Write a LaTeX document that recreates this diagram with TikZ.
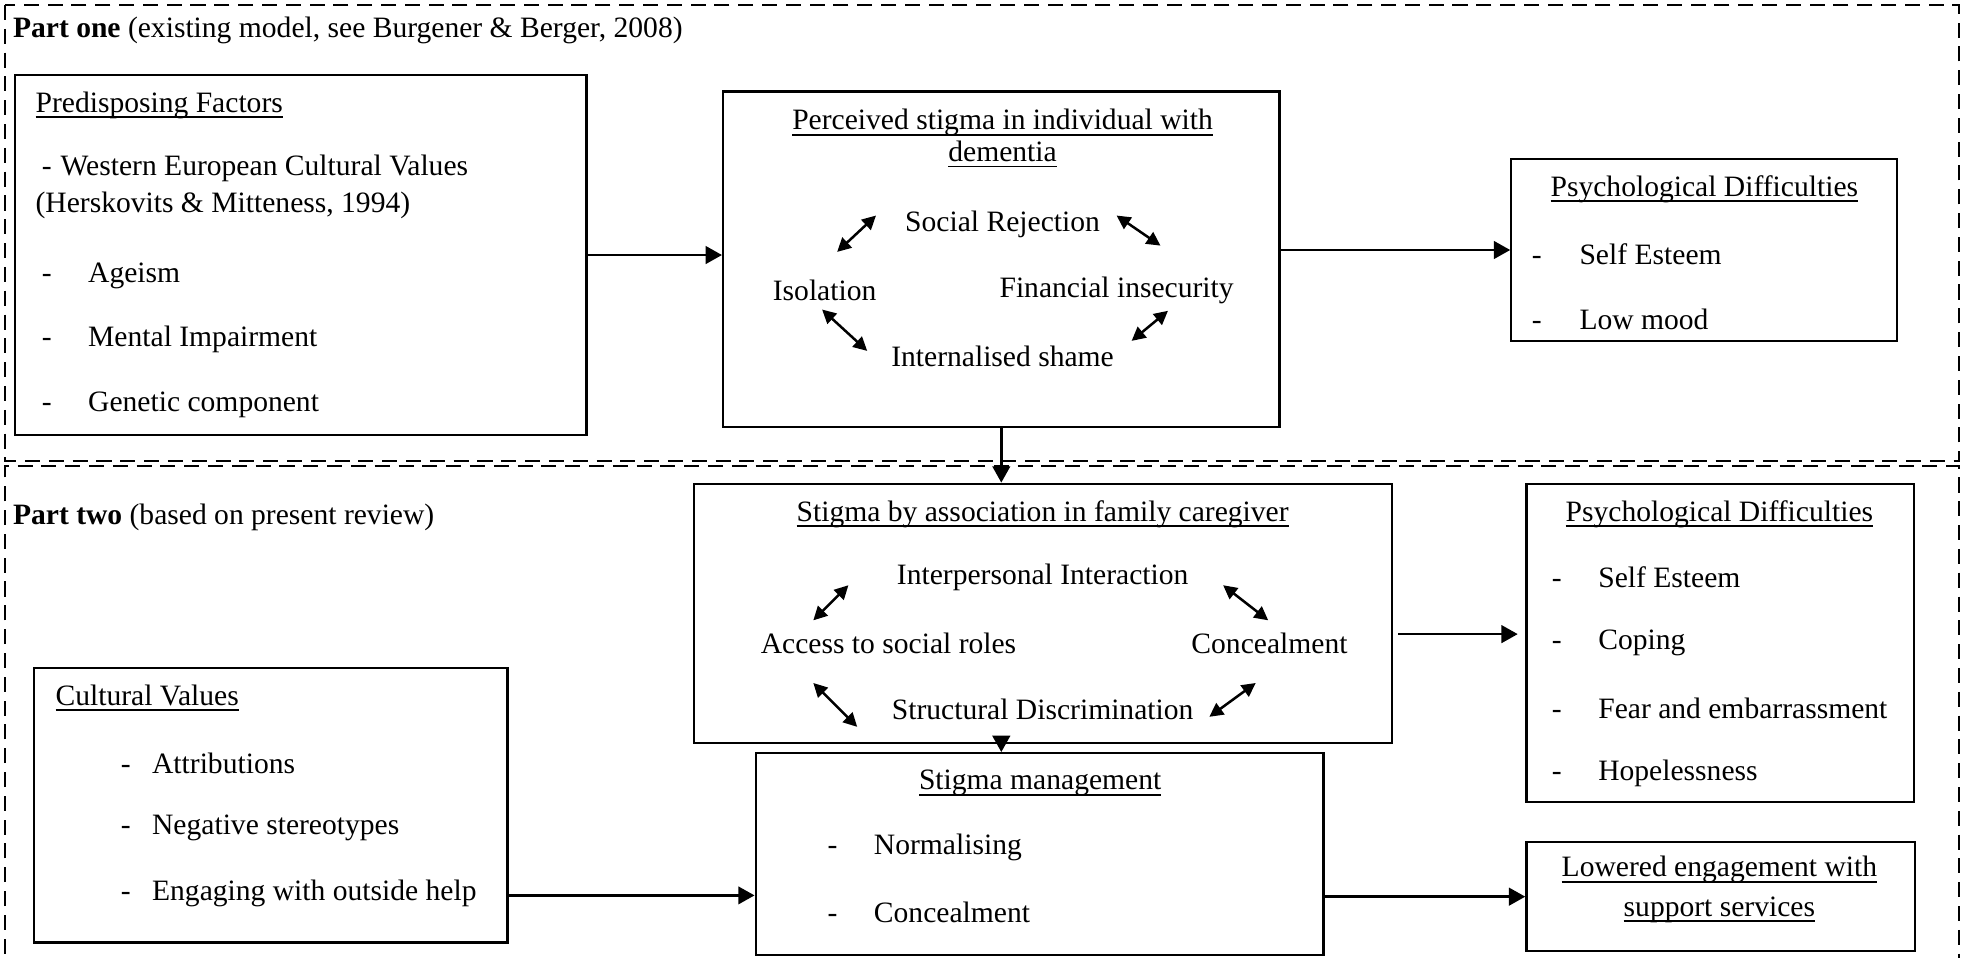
\documentclass[tikz,border=0pt]{standalone}
\usepackage{fontspec}
\setmainfont{Liberation Serif}
\usetikzlibrary{arrows.meta, positioning, calc, fit}

% dash in front of a list entry
\newcommand{\dsh}[1][18.5pt]{\makebox[#1][l]{-}}
% underline at a fixed depth below the baseline
\newcommand{\undl}[1]{\setbox0\hbox{#1}\rlap{\rule[-2.3pt]{\wd0}{0.7pt}}\box0}

\begin{document}
\begin{tikzpicture}[x=0.5pt, y=-0.5pt,
    font=\fontsize{11.8}{14}\selectfont,
    box/.style={draw, line width=0.9pt, inner sep=0pt},
    part/.style={draw, line width=0.6pt, dash pattern=on 6pt off 3.5pt},
    txt/.style={inner sep=0pt},
    itm/.style={inner sep=0pt, anchor=west},
    flow/.style={line width=1pt, -{Triangle[length=6.5pt, width=7pt]}},
    dbl/.style={line width=1pt, {Triangle[length=5.5pt, width=5.5pt]}-{Triangle[length=5.5pt, width=5.5pt]}}]
\useasboundingbox (0,0) rectangle (1568,764);

% part one
\draw[part] (4,4) rectangle (1563,368);
\node[itm] (p1) at (10,24) {\textbf{Part one} (existing model, see Burgener \& Berger, 2008)};

\node[box, fit={(12,60) (468,347)}] (pred) {};
\node[itm] (predT) at (28,84) {\undl{Predisposing Factors}};
\node[itm] (pred1) at (33,134) {\dsh[7.5pt]Western European Cultural Values};
\node[itm] (pred1b) at (28,164) {(Herskovits \& Mitteness, 1994)};
\node[itm] (pred2) at (33,220) {\dsh Ageism};
\node[itm] (pred3) at (33,271) {\dsh Mental Impairment};
\node[itm] (pred4) at (33,323) {\dsh Genetic component};

\node[box, fit={(577,73) (1021,341)}] (perc) {};
\node[txt] (percT1) at (800,98) {\undl{Perceived stigma in individual with}};
\node[txt] (percT2) at (800,123) {\undl{dementia}};
\node[txt] (soc) at (800,179) {Social Rejection};
\node[txt] (iso) at (658,232) {Isolation};
\node[txt] (fin) at (891,232) {Financial insecurity};
\node[txt] (shame) at (800,284) {Internalised shame};
\draw[dbl] ([shift={(10,-31)}]iso.center) -- ([shift={(41,-60)}]iso.center);
\draw[dbl] ([shift={(91,-7)}]soc.center) -- ([shift={(126,17)}]soc.center);
\draw[dbl] ([shift={(-2,15)}]iso.center) -- ([shift={(34,48)}]iso.center);
\draw[dbl] ([shift={(41,16)}]fin.center) -- ([shift={(12,40)}]fin.center);

\node[box, fit={(1206,127) (1514,272)}] (psy1) {};
\node[txt] (psy1T) at (1360,151) {\undl{Psychological Difficulties}};
\node[itm] (psy1a) at (1222,203) {\dsh[19pt]Self Esteem};
\node[itm] (psy1b) at (1222,255) {\dsh[19pt]Low mood};

\draw[flow] (pred.east) -- (pred.east -| perc.west);
\draw[flow] (perc.east |- psy1.west) -- (psy1.west);

% part two
\draw[part] (4,780) -- (4,372) -- (1563,372) -- (1563,780);
\node[itm] (p2) at (10,413) {\textbf{Part two} (based on present review)};

\node[box, fit={(554,386) (1111,593)}] (assoc) {};
\node[txt] (assocT) at (832,410) {\undl{Stigma by association in family caregiver}};
\node[txt] (inter) at (832,461) {Interpersonal Interaction};
\node[txt] (access) at (709,513) {Access to social roles};
\node[txt] (conc) at (1013,513) {Concealment};
\node[txt] (struct) at (832,566) {Structural Discrimination};
\draw[dbl] ([shift={(-60,-18)}]access.center) -- ([shift={(-32,-46)}]access.center);
\draw[dbl] ([shift={(-37,-46)}]conc.center) -- ([shift={(-1,-18)}]conc.center);
\draw[dbl] ([shift={(-60,32)}]access.center) -- ([shift={(-25,67)}]access.center);
\draw[dbl] ([shift={(-11,32)}]conc.center) -- ([shift={(-48,59)}]conc.center);

\node[box, fit={(1218,386) (1527,640)}] (psy2) {};
\node[txt] (psy2T) at (1372,410) {\undl{Psychological Difficulties}};
\node[itm] (psy2a) at (1238,461) {\dsh Self Esteem};
\node[itm] (psy2b) at (1238,513) {\dsh Coping};
\node[itm] (psy2c) at (1238,565) {\dsh Fear and embarrassment};
\node[itm] (psy2d) at (1238,617) {\dsh Hopelessness};

\node[box, fit={(27,533) (405,752)}] (cult) {};
\node[itm] (cultT) at (44,557) {\undl{Cultural Values}};
\node[itm] (cult1) at (96,609) {\dsh[12.5pt]Attributions};
\node[itm] (cult2) at (96,661) {\dsh[12.5pt]Negative stereotypes};
\node[itm] (cult3) at (96,713) {\dsh[12.5pt]Engaging with outside help};

\node[box, fit={(603,601) (1056,762)}] (mgmt) {};
\node[txt] (mgmtT) at (830,625) {\undl{Stigma management}};
\node[itm] (mgmt1) at (660,676) {\dsh Normalising};
\node[itm] (mgmt2) at (660,728) {\dsh Concealment};

\node[box, fit={(1218,672) (1528,759)}] (low) {};
\node[txt] (lowT1) at (1372,694) {\undl{Lowered engagement with}};
\node[txt] (lowT2) at (1372,726) {\undl{support services}};

\draw[flow] (perc.south) -- (perc.south |- assoc.north);
\draw[flow] (perc.south |- assoc.south) -- (perc.south |- mgmt.north);
\draw[flow] ([shift={(2pt,-8.25pt)}]assoc.east) -- ([shift={(-3pt,-8.25pt)}]assoc.east -| psy2.west);
\draw[flow] ([yshift=-36pt]cult.east) -- ([yshift=-36pt]cult.east -| mgmt.west);
\draw[flow] (mgmt.east |- low.west) -- (low.west);
\end{tikzpicture}
\end{document}
